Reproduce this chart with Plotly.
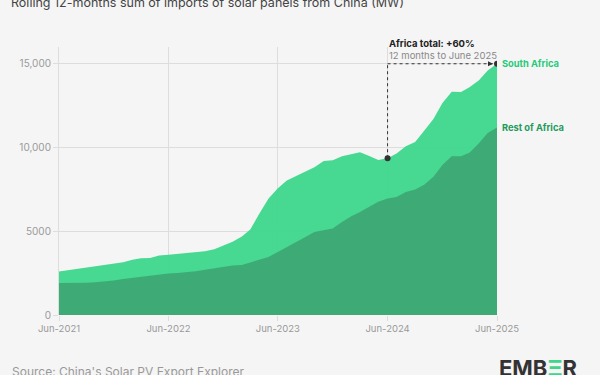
import pandas as pd
import plotly.graph_objects as go

months = pd.date_range("2021-06-01", "2025-06-01", freq="MS")

total_africa = [2600, 2680, 2760, 2830, 2900, 2980, 3050, 3150, 3300, 3390,
                3400, 3550, 3600, 3640, 3720, 3760, 3800, 3930, 4140, 4380,
                4680, 5100, 6070, 6950, 7560, 8030, 8300, 8550, 8820, 9200,
                9240, 9480, 9600, 9710, 9500, 9250, 9360, 9640, 10070, 10330,
                11000, 11700, 12650, 13330, 13310, 13600, 14000, 14600, 15000]

rest_of_africa = [1905, 1905, 1900, 1920, 1950, 1990, 2060, 2150, 2220, 2300,
                  2380, 2450, 2480, 2510, 2550, 2610, 2700, 2800, 2890, 2960,
                  2990, 3130, 3300, 3470, 3760, 4050, 4300, 4650, 4950, 5060,
                  5170, 5550, 5900, 6150, 6470, 6760, 6960, 7050, 7350, 7500,
                  7780, 8250, 8950, 9480, 9480, 9680, 10240, 10870, 11190]

x_tick_vals = ["2021-06-01", "2022-06-01", "2023-06-01", "2024-06-01", "2025-06-01"]
x_tick_text = ["Jun-2021", "Jun-2022", "Jun-2023", "Jun-2024", "Jun-2025"]
y_tick_vals = [0, 5000, 10000, 15000]
y_tick_text = ["0", "5000", "10,000", "15,000"]

FONT = "Inter"
TOP_GREEN = "rgba(64,214,142,0.96)"
BOT_GREEN = "rgba(61,168,117,0.96)"

W, H = 600, 375
ML, MR, MT, MB = 59, 103, 47, 60
PW, PH = W - ML - MR, H - MT - MB

fig = go.Figure()
fig.add_trace(go.Scatter(x=months, y=total_africa, mode="lines", line=dict(width=0, color=TOP_GREEN),
                         fill="tozeroy", fillcolor=TOP_GREEN, name="South Africa", hoverinfo="skip"))
fig.add_trace(go.Scatter(x=months, y=rest_of_africa, mode="lines", line=dict(width=0, color=BOT_GREEN),
                         fill="tozeroy", fillcolor=BOT_GREEN, name="Rest of Africa", hoverinfo="skip"))

start_i = 36
x0, y0 = months[start_i], total_africa[start_i]
x1, y1 = months[-1], total_africa[-1]

fig.add_shape(type="line", xref="x", yref="y", x0=x0, x1=x0, y0=y0, y1=y1,
              line=dict(color="#333333", width=1, dash="dot"))
fig.add_shape(type="line", xref="x", yref="y", x0=x0, x1=x1, y0=y1, y1=y1,
              line=dict(color="#333333", width=1, dash="dot"))
fig.add_annotation(x=x1, y=y1, xref="x", yref="y", ax=-10, ay=0, axref="pixel", ayref="pixel",
                   showarrow=True, arrowhead=2, arrowsize=1, arrowwidth=1, arrowcolor="#333333",
                   standoff=4, text="")
fig.add_trace(go.Scatter(x=[x0, x1], y=[y0, y1], mode="markers",
                         marker=dict(size=6, color="#333333"), hoverinfo="skip", showlegend=False))

fig.add_annotation(x=x0, y=y1, xref="x", yref="y", xanchor="left", yanchor="middle",
                   xshift=-1, yshift=20, showarrow=False, align="left",
                   text="<b>Africa total: +60%</b>",
                   font=dict(family=FONT, size=9.5, color="#222222"))
fig.add_annotation(x=x0, y=y1, xref="x", yref="y", xanchor="left", yanchor="middle",
                   xshift=-1, yshift=8, showarrow=False, align="left",
                   text="12 months to June 2025",
                   font=dict(family=FONT, size=9.5, color="#888888"))

fig.add_annotation(x=x1, y=y1, xref="x", yref="y", xanchor="left", yanchor="middle", xshift=3,
                   showarrow=False, text="<b>South Africa</b>",
                   font=dict(family=FONT, size=9.3, color="#27c97a"))
fig.add_annotation(x=x1, y=rest_of_africa[-1], xref="x", yref="y", xanchor="left", yanchor="middle", xshift=3,
                   showarrow=False, text="<b>Rest of Africa</b>",
                   font=dict(family=FONT, size=9.3, color="#1f9a5c"))

fig.add_annotation(text="Source: China's Solar PV Export Explorer",
                   xref="paper", yref="paper", x=(10 - ML) / PW, y=-(371 - (H - MB)) / PH,
                   xanchor="left", yanchor="middle", showarrow=False,
                   font=dict(family=FONT, size=12, color="#999999"))
fig.add_annotation(text="<b>EMB<span style='color:#3fd68c'>Ξ</span>R</b>",
                   xref="paper", yref="paper", x=(579 - ML) / PW, y=-(368 - (H - MB)) / PH,
                   xanchor="right", yanchor="middle", showarrow=False,
                   font=dict(family=FONT, size=22, color="#333333"))

fig.update_layout(
    width=W, height=H,
    margin=dict(l=ML, r=MR, t=MT, b=MB),
    paper_bgcolor="#f5f5f5", plot_bgcolor="#f5f5f5",
    showlegend=False,
    title=dict(text="Rolling 12-months sum of imports of solar panels from China (MW)",
               xref="container", yref="container", x=11 / W, y=1 - 3 / H,
               xanchor="left", yanchor="middle",
               font=dict(family=FONT, size=12.5, color="#444444")),
    font=dict(family=FONT, color="#999999"),
    xaxis=dict(type="date", range=["2021-06-01", "2025-06-01"], tickvals=x_tick_vals, ticktext=x_tick_text,
               showgrid=True, gridcolor="#dddddd", gridwidth=1, zeroline=False, showline=False,
               ticks="outside", ticklen=5, tickcolor="#dddddd",
               tickfont=dict(family=FONT, size=9.5, color="#999999")),
    yaxis=dict(range=[0, 16000], tickvals=y_tick_vals, ticktext=y_tick_text,
               showgrid=True, gridcolor="#dddddd", gridwidth=1, zeroline=False,
               showline=True, linecolor="#dddddd", linewidth=1,
               ticks="outside", ticklen=5, tickcolor="#dddddd",
               tickfont=dict(family=FONT, size=10, color="#999999")),
)

fig.write_html("out.html", config={"displayModeBar": False},
               post_script="document.body.style.margin='0';document.body.style.background='#f5f5f5';")
